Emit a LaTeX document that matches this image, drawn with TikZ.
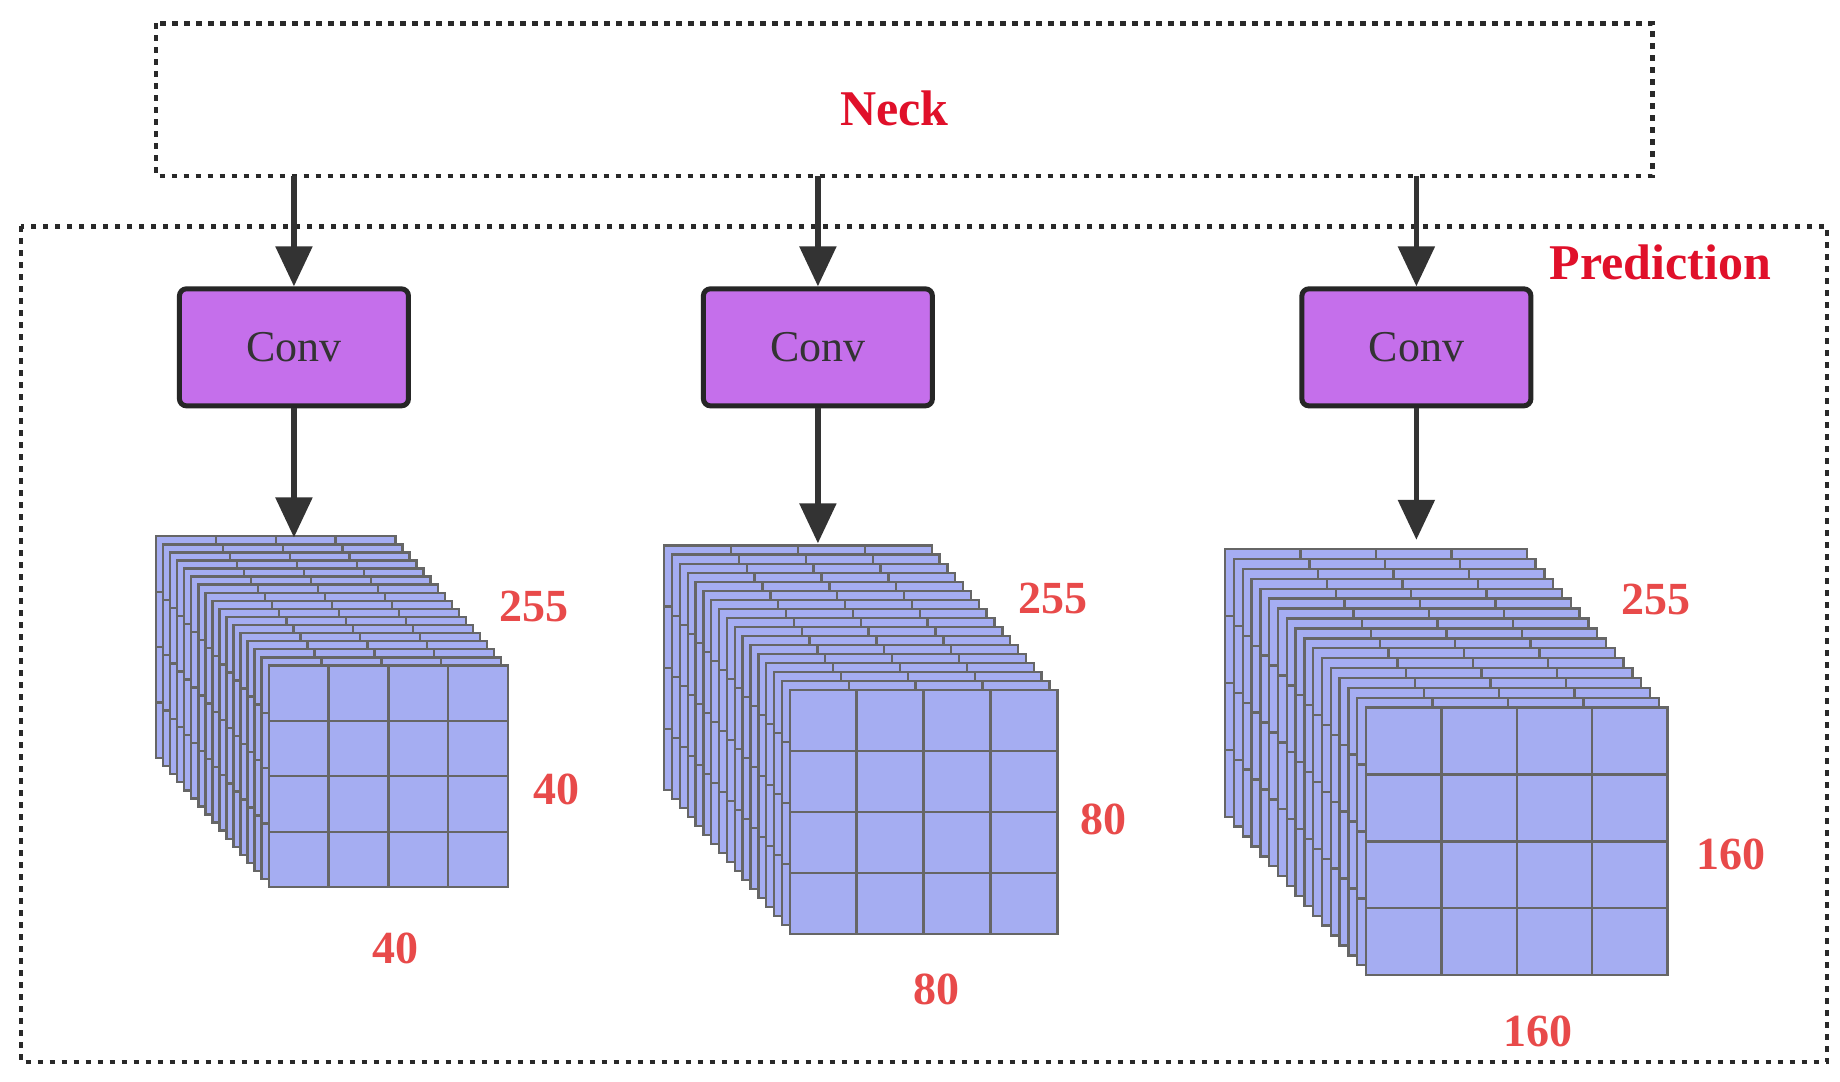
\documentclass[tikz,border=0pt]{standalone}
\usepackage{fontspec}
\setmainfont{Liberation Serif}
\usetikzlibrary{arrows.meta}
\definecolor{sheet}{HTML}{A5ADF2}
\definecolor{grid}{HTML}{666666}
\definecolor{convf}{HTML}{C56FEB}
\definecolor{lab}{HTML}{E84A4A}
\definecolor{titl}{HTML}{E0102A}
\definecolor{ink}{HTML}{333333}
\tikzset{
  dotbox/.style={draw=ink!80!black,line width=4.5pt,dash pattern=on 5.5pt off 6.5pt},
  convbox/.style={draw=black!85,fill=convf,line width=5pt,rounded corners=7pt,minimum width=229pt,minimum height=117pt,font=\fontsize{44}{48}\selectfont,text=ink},
  flow/.style={draw=ink,line width=5.5pt,-{Triangle[length=40pt,width=36pt]}},
  num/.style={text=lab,font=\bfseries\fontsize{46}{50}\selectfont},
  ttl/.style={text=titl,font=\bfseries\fontsize{50}{54}\selectfont}
}
% stack: back x,y ; front x1,y1,x2,y2 ; nsteps
\newcommand{\mystack}[6]{%
  \pgfmathsetmacro{\w}{#5-#3}\pgfmathsetmacro{\h}{#6-#4}%
  \pgfmathsetmacro{\ddx}{(#3-#1)/16}\pgfmathsetmacro{\ddy}{(#4-#2)/16}%
  \foreach \i in {0,...,16}{%
    \pgfmathsetmacro{\sx}{#1+\i*\ddx}\pgfmathsetmacro{\sy}{#2+\i*\ddy}%
    \fill[sheet] (\sx,\sy) rectangle ++(\w,\h);
    \foreach \k in {1,2,3}{%
      \draw[grid,line width=2.4pt] (\sx+\k*\w/4,\sy) -- ++(0,\h);
      \draw[grid,line width=2.4pt] (\sx,\sy+\k*\h/4) -- ++(\w,0);}
    \draw[grid,line width=2.4pt] (\sx,\sy) rectangle ++(\w,\h);
  }}
\begin{document}
\begin{tikzpicture}[x=1.1735pt,y=-1.1735pt]
\useasboundingbox (0,0) rectangle (1568,922);
\fill[white] (0,0) rectangle (1568,922);
\draw[dotbox] (133,20) rectangle (1408,150);
\draw[dotbox] (18,193) rectangle (1557,905);
\node[ttl] (neck) at (762,92) {Neck};
\node[ttl] (pred) at (1415,224) {Prediction};
\node[convbox] (c1) at (250.5,296) {Conv};
\node[convbox] (c2) at (697,296) {Conv};
\node[convbox] (c3) at (1207,296) {Conv};
\coordinate (n1) at (250.5,150); \coordinate (n2) at (697,150); \coordinate (n3) at (1207,150);
\coordinate (s1) at (250.5,458); \coordinate (s2) at (697,463); \coordinate (s3) at (1207,460);
\mystack{133}{457}{229}{567}{433}{756}
\mystack{566}{465}{673}{588}{901}{796}
\mystack{1044}{468}{1164}{603}{1421}{831}
\draw[flow] (n1) -- (c1.north);
\draw[flow] (n2) -- (c2.north);
\draw[flow] (n3) -- (c3.north);
\draw[flow] (c1.south) -- (s1);
\draw[flow] (c2.south) -- (s2);
\draw[flow] (c3.south) -- (s3);
\node[num] (a1) at (455,517) {255};
\node[num] (a2) at (474,673) {40};
\node[num] (a3) at (337,808) {40};
\node[num] (b1) at (897,510) {255};
\node[num] (b2) at (940,698) {80};
\node[num] (b3) at (798,843) {80};
\node[num] (d1) at (1411,511) {255};
\node[num] (d2) at (1475,728) {160};
\node[num] (d3) at (1311,879) {160};
\end{tikzpicture}
\end{document}
